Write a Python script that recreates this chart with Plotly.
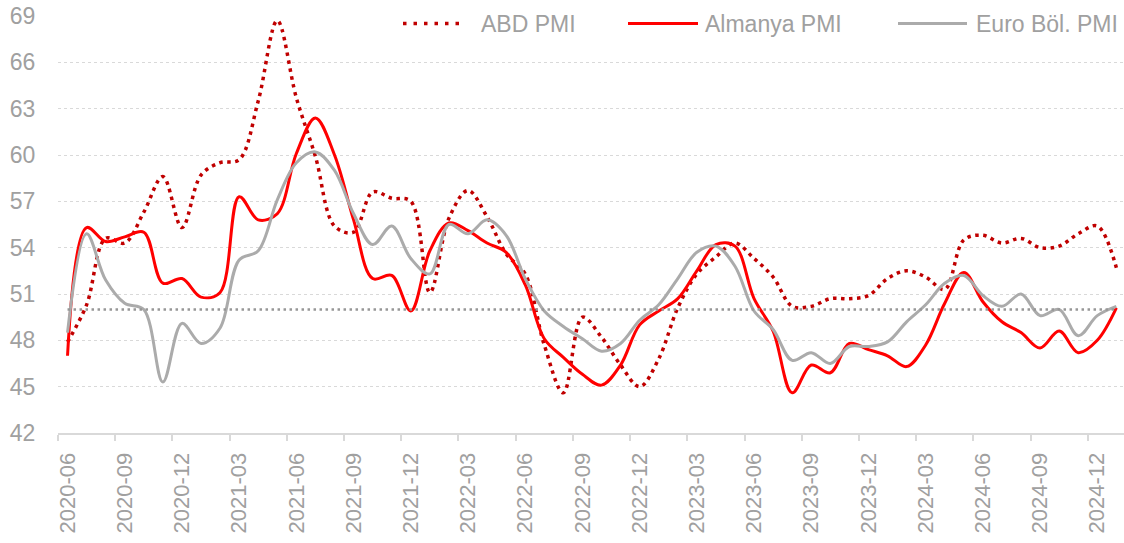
import plotly.graph_objects as go

# ---------------- data ----------------
months = [
    "2020-06", "2020-07", "2020-08", "2020-09", "2020-10", "2020-11", "2020-12",
    "2021-01", "2021-02", "2021-03", "2021-04", "2021-05", "2021-06",
    "2021-07", "2021-08", "2021-09", "2021-10", "2021-11", "2021-12",
    "2022-01", "2022-02", "2022-03", "2022-04", "2022-05", "2022-06",
    "2022-07", "2022-08", "2022-09", "2022-10", "2022-11", "2022-12",
    "2023-01", "2023-02", "2023-03", "2023-04", "2023-05", "2023-06",
    "2023-07", "2023-08", "2023-09", "2023-10", "2023-11", "2023-12",
    "2024-01", "2024-02", "2024-03", "2024-04", "2024-05", "2024-06",
    "2024-07", "2024-08", "2024-09", "2024-10", "2024-11", "2024-12",
    "2025-01",
]

abd_pmi = [
    47.9, 50.3, 54.6, 54.3, 56.3, 58.6, 55.3,
    58.7, 59.5, 59.7, 63.5, 68.7, 63.7, 59.9, 55.4, 55.0, 57.6, 57.2, 57.0,
    51.1, 55.9, 57.7, 56.0, 53.6, 52.3, 47.7, 44.6, 49.5, 48.2, 46.4, 45.0,
    46.8, 50.1, 52.3, 53.4, 54.3, 53.3, 52.1, 50.2, 50.2, 50.7, 50.7, 50.9,
    52.0, 52.5, 52.1, 51.3, 54.5, 54.8, 54.3, 54.6, 54.0, 54.1, 54.9, 55.4,
    52.7,
]

almanya_pmi = [
    47.0, 55.3, 54.4, 54.7, 55.0, 51.7, 52.0,
    50.8, 51.1, 57.3, 55.8, 56.2, 60.1, 62.4, 60.0, 55.8, 52.0, 52.2, 49.9,
    53.8, 55.6, 55.1, 54.3, 53.7, 51.6, 48.1, 46.9, 45.8, 45.1, 46.4, 49.0,
    49.9, 50.7, 52.5, 54.2, 54.1, 50.7, 48.6, 44.6, 46.4, 45.9, 47.8, 47.4,
    47.0, 46.3, 47.7, 50.4, 52.4, 50.5, 49.2, 48.5, 47.5, 48.6, 47.2, 48.0,
    50.1,
]

euro_pmi = [
    48.5, 54.9, 51.9, 50.4, 50.0, 45.3, 49.1,
    47.8, 48.8, 53.2, 53.8, 57.1, 59.5, 60.2, 59.0, 56.2, 54.2, 55.4, 53.3,
    52.3, 55.5, 54.9, 55.8, 54.8, 52.0, 49.9, 48.9, 48.1, 47.3, 47.8, 49.3,
    50.3, 52.0, 53.7, 54.1, 52.8, 49.9, 48.7, 46.7, 47.2, 46.5, 47.6, 47.6,
    47.9, 49.2, 50.3, 51.7, 52.2, 50.9, 50.2, 51.0, 49.6, 50.0, 48.3, 49.6,
    50.2,
]

ref_level = 50
y_ticks = [42, 45, 48, 51, 54, 57, 60, 63, 66, 69]
series_names = ["ABD PMI", "Almanya PMI", "Euro Böl. PMI"]

# ---------------- derived ----------------
x_idx = list(range(len(months)))
tick_idx = x_idx[::3]
tick_text = months[::3]
boundary_ticks = [i - 0.5 for i in tick_idx]

W, H = 1124, 543
ML, MR, MT, MB = 58, 0, 16, 110
x_range = [-0.5, len(months) - 0.6]

FONT = "Liberation Sans, Arial, sans-serif"
TXT = "#A0A0A0"
GRID = "#D9D9D9"

C_ABD = "#C00000"
C_DE = "#FF0000"
C_EU = "#ABABAB"

fig = go.Figure()

fig.add_trace(go.Scatter(
    x=x_idx, y=abd_pmi, mode="lines", name=series_names[0],
    line=dict(color=C_ABD, width=3.5, dash="3.5px,4.5px", shape="spline", smoothing=1.0),
))
fig.add_trace(go.Scatter(
    x=x_idx, y=almanya_pmi, mode="lines", name=series_names[1],
    line=dict(color=C_DE, width=3, shape="spline", smoothing=1.0),
))
fig.add_trace(go.Scatter(
    x=x_idx, y=euro_pmi, mode="lines", name=series_names[2],
    line=dict(color=C_EU, width=3, shape="spline", smoothing=1.0),
))
fig.add_trace(go.Scatter(
    x=x_idx, y=[ref_level] * len(months), mode="lines", xaxis="x2",
    line=dict(color="#979797", width=2.5, dash="2.5px,3.5px"),
    showlegend=False, hoverinfo="skip",
))

# ---------------- custom legend ----------------
plot_w = W - ML - MR
plot_h = H - MT - MB


def px_x(page_px):
    return (page_px - ML) / plot_w


def px_y(page_py):
    return (H - MB - page_py) / plot_h


legend_y = 23.5
legend_items = [
    # (line start px, line end px, text left px, color, dash, width) in page pixels
    (403, 466, 479, C_ABD, "3.5px,7px", 3.5),
    (628, 698, 703, C_DE, "solid", 3),
    (898, 967, 974, C_EU, "solid", 3),
]
shapes = []
annotations = []
for (x0, x1, xt, col, dash, wdt), name in zip(legend_items, series_names):
    shapes.append(dict(
        type="line", xref="paper", yref="paper",
        x0=px_x(x0), x1=px_x(x1), y0=px_y(legend_y), y1=px_y(legend_y),
        line=dict(color=col, width=wdt, dash=dash),
    ))
    annotations.append(dict(
        xref="paper", yref="paper", x=px_x(xt), y=px_y(legend_y),
        xanchor="left", yanchor="middle", text=name, showarrow=False,
        font=dict(family=FONT, size=23, color=TXT),
    ))

fig.update_layout(
    width=W, height=H,
    margin=dict(l=ML, r=MR, t=MT, b=MB, pad=0),
    paper_bgcolor="white", plot_bgcolor="white",
    showlegend=False,
    font=dict(family=FONT, color=TXT),
    shapes=shapes,
    annotations=annotations,
    xaxis=dict(
        range=x_range, tickmode="array", tickvals=boundary_ticks,
        showticklabels=False, ticks="outside", ticklen=6, tickwidth=1.5,
        tickcolor=GRID, showline=True, linecolor=GRID, linewidth=1.5,
        showgrid=False, zeroline=False, fixedrange=True,
    ),
    xaxis2=dict(
        overlaying="x", anchor="y", side="bottom", range=x_range,
        tickmode="array", tickvals=tick_idx, ticktext=tick_text,
        tickangle=-90, ticks="outside", ticklen=10,
        tickcolor="rgba(0,0,0,0)", showline=False, showgrid=False,
        zeroline=False, tickfont=dict(family=FONT, size=22, color=TXT),
    ),
    yaxis=dict(
        range=[42, 69], tickmode="array", tickvals=y_ticks,
        showgrid=True, gridcolor=GRID, griddash="dot", gridwidth=1,
        zeroline=False, showline=False, ticks="outside", ticklen=17,
        tickcolor="rgba(0,0,0,0)", tickfont=dict(family=FONT, size=23, color=TXT),
    ),
)

fig.write_html(
    "out.html",
    config={"displayModeBar": False},
    post_script="document.body.style.margin='0';document.body.style.padding='0';"
                "document.body.style.overflow='hidden';",
)
